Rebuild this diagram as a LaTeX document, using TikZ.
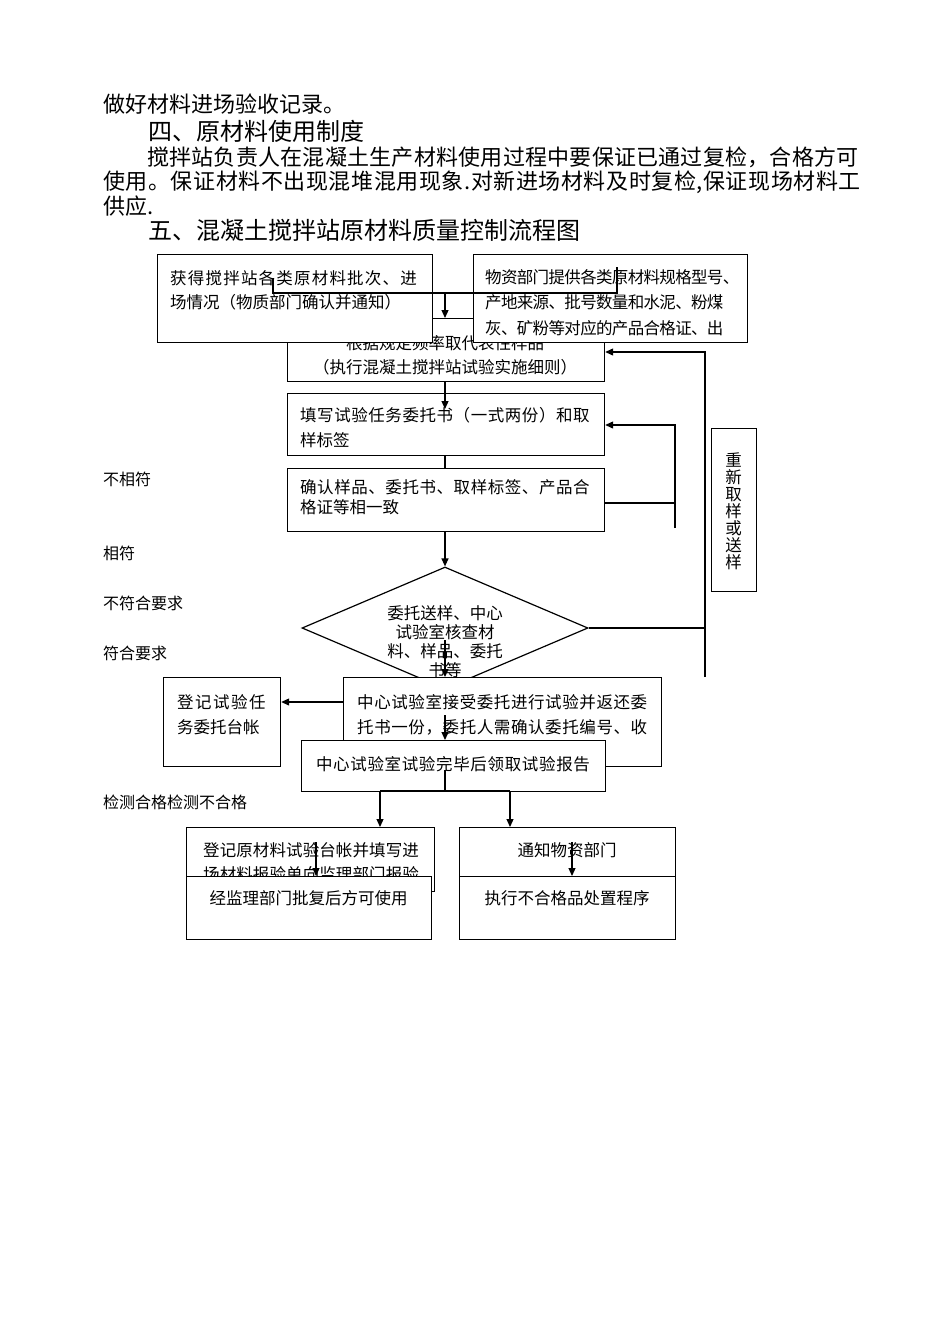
\documentclass[tikz,border=0pt]{standalone}
\usepackage{fontspec}
\setmainfont{Noto Sans CJK SC}
\usetikzlibrary{arrows.meta,shapes.geometric}
\newcommand\lsp[2]{{\addfontfeature{LetterSpace=#1}#2}}
\newcommand\bx[1]{\fontsize{16.5}{#1}\selectfont}
\tikzset{
  box/.style={draw,line width=1.2pt,fill=white,inner sep=0pt,anchor=north west},
  txt/.style={inner sep=0pt,anchor=west,align=left},
  ctxt/.style={inner sep=0pt,align=center},
  body/.style={inner sep=0pt,anchor=west,font=\fontsize{22}{26}\selectfont},
  head/.style={inner sep=0pt,anchor=west,font=\fontsize{24}{28}\selectfont},
  lab/.style={inner sep=0pt,anchor=west,font=\fontsize{16}{20}\selectfont},
  ln/.style={line width=1.2pt},
  arr/.style={line width=1.2pt,-{Triangle[length=8pt,width=7pt]}}
}
\begin{document}
\begin{tikzpicture}[x=1pt,y=-1pt]
\useasboundingbox (0,0) rectangle (950,1344);
\fill[white] (0,0) rectangle (950,1344);
% body text
\node[body] (p1) at (103,104) {做好材料进场验收记录。};
\node[head] (p2) at (148,131) {四、原材料使用制度};
\node[body] (p3) at (147,157) {\lsp{1.1}{搅拌站负责人在混凝土生产材料使用过程中要保证已通过复检，合格方可}};
\node[body] (p4) at (103,182) {\lsp{2.6}{使用。保证材料不出现混堆混用现象.对新进场材料及时复检,保证现场材料工}};
\node[body] (p5) at (103,206) {供应.};
\node[head] (p6) at (148,230) {五、混凝土搅拌站原材料质量控制流程图};
% left labels
\node[lab] (l1) at (103,479) {不相符};
\node[lab] (l2) at (103,553) {相符};
\node[lab] (l3) at (103,603) {不符合要求};
\node[lab] (l4) at (103,653) {符合要求};
\node[lab] (l5) at (103,802) {检测合格检测不合格};
% box C (under A and B)
\node[box,minimum width=317pt,minimum height=63pt] (C) at (287,318) {};
\node[ctxt,font=\bx{24}] (tC) at (445,355) {根据规定频率取代表性样品\\（执行混凝土搅拌站试验实施细则）};
% box A
\node[box,minimum width=275pt,minimum height=88pt] (A) at (157,254) {};
\node[txt,font=\bx{24}] (tA) at (170,290) {\lsp{7.3}{获得搅拌站各类原材料批次、进}\\场情况（物质部门确认并通知）};
% box B
\node[box,minimum width=274pt,minimum height=88pt] (B) at (473,254) {};
\node[txt,font=\bx{25.5}] (tB) at (485,302.5) {\lsp{-4}{物资部门提供各类原材料规格型号、}\\\lsp{-4}{产地来源、批号数量和水泥、粉煤}\\\lsp{-4}{灰、矿粉等对应的产品合格证、出}};
% connector over A and B
\coordinate (barA) at (273,278);
\coordinate (barB) at (617,267);
\coordinate (hA) at (273,293);
\coordinate (hB) at (617,293);
\coordinate (hM) at (445,293);
\draw[ln] (barA) -- (hA) -- (hB) -- (barB);
\draw[arr] (hM) -- (hM |- C.north);
% box D
\node[box,minimum width=317pt,minimum height=62pt] (D) at (287,393) {};
\node[txt,font=\bx{25}] (tD) at (300,428) {\lsp{3.4}{填写试验任务委托书（一式两份）和取}\\样标签};
% box E
\node[box,minimum width=317pt,minimum height=63pt] (E) at (287,468) {};
\node[txt,font=\bx{20}] (tE) at (300,497) {\lsp{3.4}{确认样品、委托书、取样标签、产品合}\\格证等相一致};
\coordinate (dIn) at (445,409);
\draw[arr] (C.south -| dIn) -- (dIn);
\draw[ln] (D.south -| dIn) -- (E.north -| dIn);
% feedback loop E -> D
\coordinate (fb1) at (675,503);
\coordinate (fb2) at (675,528);
\coordinate (fb3) at (675,425);
\draw[ln] (E.east |- fb1) -- (fb1);
\draw[arr] (fb2) -- (fb3) -- (D.east |- fb3);
% right box
\node[box,minimum width=45pt,minimum height=163pt] (R) at (711,428) {};
\node[ctxt,font=\bx{17}] (tR) at (733.5,511) {重\\新\\取\\样\\或\\送\\样};
% diamond
\node[draw,line width=1.2pt,fill=white,diamond,aspect=2.344,inner sep=0pt,minimum width=286pt,minimum height=122pt] (Q) at (445,628) {};
\node[ctxt,font=\bx{19}] (tQ) at (445,641.5) {委托送样、中心\\试验室核查材\\料、样品、委托\\书等};
\draw[arr] (E.south -| dIn) -- (Q.north);
% right return line
\coordinate (r1) at (705,352);
\coordinate (r2) at (705,677);
\draw[ln] (Q.east) -- (Q.east -| r1);
\draw[arr] (r2) -- (r1) -- (C.east |- r1);
% box F
\node[box,minimum width=318pt,minimum height=89pt] (F) at (343,677) {};
\node[txt,font=\bx{25}] (tF) at (357,714.5) {\lsp{3.6}{中心试验室接受委托进行试验并返还委}\\\lsp{3.6}{托书一份，委托人需确认委托编号、收}};
\coordinate (qIn) at (445,640);
\draw[arr] (qIn) -- (qIn |- F.north);
% box H
\node[box,minimum width=117pt,minimum height=89pt] (H) at (163,677) {};
\node[txt,font=\bx{25}] (tH) at (177,714.5) {\lsp{9}{登记试验任}\\务委托台帐};
\coordinate (hY) at (343,702);
\draw[arr] (hY) -- (H.east |- hY);
% box G
\node[box,minimum width=304pt,minimum height=51pt] (G) at (301,740) {};
\node[ctxt,font=\bx{20}] (tG) at (453,764) {\lsp{4}{中心试验室试验完毕后领取试验报告}};
\coordinate (fIn) at (445,715);
\draw[arr] (fIn) -- (fIn |- G.north);
\coordinate (gIn) at (445,770);
\draw[ln] (gIn) -- (gIn |- G.south);
\coordinate (gL) at (380,791);
\coordinate (gR) at (510,791);
\draw[ln] (gL) -- (gR);
% box I and J
\node[box,minimum width=248pt,minimum height=64pt] (I) at (186,827) {};
\node[txt,font=\bx{24}] (tI) at (203,862) {\lsp{0.6}{登记原材料试验台帐并填写进}\\\lsp{0.6}{场材料报验单向监理部门报验}};
\coordinate (iIn) at (316,842);
\node[box,minimum width=245pt,minimum height=63pt] (J) at (186,876) {};
\node[ctxt,font=\bx{20}] (tJ) at (308.5,898) {经监理部门批复后方可使用};
\draw[arr] (iIn) -- (iIn |- J.north);
% box K and L
\node[box,minimum width=216pt,minimum height=64pt] (K) at (459,827) {};
\node[ctxt,font=\bx{20}] (tK) at (567,850) {通知物资部门};
\coordinate (kIn) at (572,842);
\node[box,minimum width=216pt,minimum height=63pt] (L) at (459,876) {};
\node[ctxt,font=\bx{20}] (tL) at (567,898) {执行不合格品处置程序};
\draw[arr] (kIn) -- (kIn |- L.north);
\draw[arr] (gL) -- (gL |- I.north);
\draw[arr] (gR) -- (gR |- K.north);
\end{tikzpicture}
\end{document}
